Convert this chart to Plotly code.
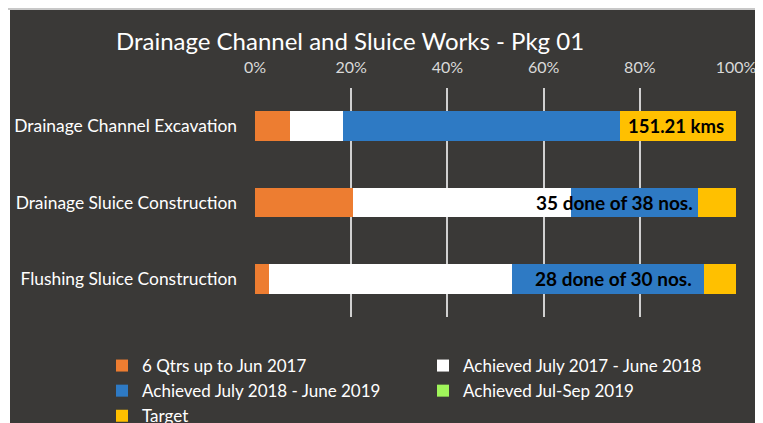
import plotly.graph_objects as go

categories = ["Drainage Channel Excavation", "Drainage Sluice Construction", "Flushing Sluice Construction"]
series_names = ["6 Qtrs up to Jun 2017", "Achieved July 2017 - June 2018",
                "Achieved July 2018 - June 2019", "Achieved Jul-Sep 2019", "Target"]
qtrs_upto_jun2017 = [0.073, 0.204, 0.029]
achieved_1718 = [0.109, 0.453, 0.505]
achieved_1819 = [0.577, 0.264, 0.399]
achieved_julsep19 = [0.0, 0.0, 0.0]
target_rest = [0.241, 0.079, 0.067]
bar_labels = ["151.21 kms", "35 done of 38 nos.", "28 done of 30 nos."]
tick_vals = [0, 0.2, 0.4, 0.6, 0.8, 1.0]
tick_text = ["0%", "20%", "40%", "60%", "80%", "100%"]

colors = ["#ED7D31", "#FFFFFF", "#2E7AC4", "#A0F55A", "#FFC000"]
bg = "#3A3937"
FONT = "Lato"

W, H = 755, 415
L, R, T, B = 247, 27, 80, 106
PW, PH = W - L - R, H - T - B

fig = go.Figure()
all_series = [qtrs_upto_jun2017, achieved_1718, achieved_1819, achieved_julsep19, target_rest]
for name, vals, col in zip(series_names, all_series, colors):
    fig.add_trace(go.Bar(y=categories, x=vals, name=name, orientation="h",
                         marker=dict(color=col, line=dict(width=0))))

# data labels
label_shift = [0, -3, -10]
for i, cat in enumerate(categories):
    cum_blue = qtrs_upto_jun2017[i] + achieved_1718[i] + achieved_1819[i] + achieved_julsep19[i]
    if i == 0:
        xpos = cum_blue + target_rest[i] / 2
        anchor = "center"
    else:
        xpos = cum_blue
        anchor = "right"
    fig.add_annotation(x=xpos, y=cat, text="<b>" + bar_labels[i] + "</b>", showarrow=False,
                       xanchor=anchor, yanchor="middle", xshift=label_shift[i] - (2 if i == 0 else 0),
                       font=dict(family=FONT, size=19 if i else 18.5, color="#000000"))

# thin white / light-gray border strips along the top-left edge
fig.add_shape(type="rect", xref="paper", yref="paper", layer="above",
              x0=-L / PW, x1=(2 - L) / PW, y0=-B / PH, y1=1 + T / PH,
              fillcolor="#FFFFFF", line=dict(width=0))
fig.add_shape(type="rect", xref="paper", yref="paper", layer="above",
              x0=-L / PW, x1=1 + R / PW, y0=1 + (T - 2) / PH, y1=1 + T / PH,
              fillcolor="#C8C8C8", line=dict(width=0))

fig.update_layout(
    width=W, height=H,
    paper_bgcolor=bg, plot_bgcolor=bg,
    margin=dict(l=L, r=R, t=T, b=B, autoexpand=False),
    barmode="stack", bargap=0.61,
    title=dict(text="Drainage Channel and Sluice Works - Pkg 01", x=342 / W, xanchor="center",
               y=1 - 34 / H, yanchor="middle", yref="container",
               font=dict(family=FONT, size=24, color="#FFFFFF")),
    xaxis=dict(side="top", range=[0, 1], tickvals=tick_vals, ticktext=tick_text,
               showgrid=True, gridcolor="#D0D0D0", gridwidth=1.5, zeroline=False,
               tickfont=dict(family=FONT, size=16, color="#D9D9D9"), ticks="",
               ticklabelstandoff=11, fixedrange=True, automargin=False),
    yaxis=dict(categoryorder="array", categoryarray=categories, autorange="reversed",
               tickfont=dict(family=FONT, size=17.4, color="#FFFFFF"), ticks="",
               ticklabelstandoff=17, showgrid=False, showline=False, fixedrange=True,
               automargin=False),
    legend=dict(orientation="h", x=(94 - L) / PW, xanchor="left",
                y=(T + PH - 340) / PH, yanchor="top", entrywidth=276, traceorder="normal",
                font=dict(family=FONT, size=17, color="#FFFFFF"), bgcolor="rgba(0,0,0,0)"),
    showlegend=True,
)

fig.write_html("out.html")
